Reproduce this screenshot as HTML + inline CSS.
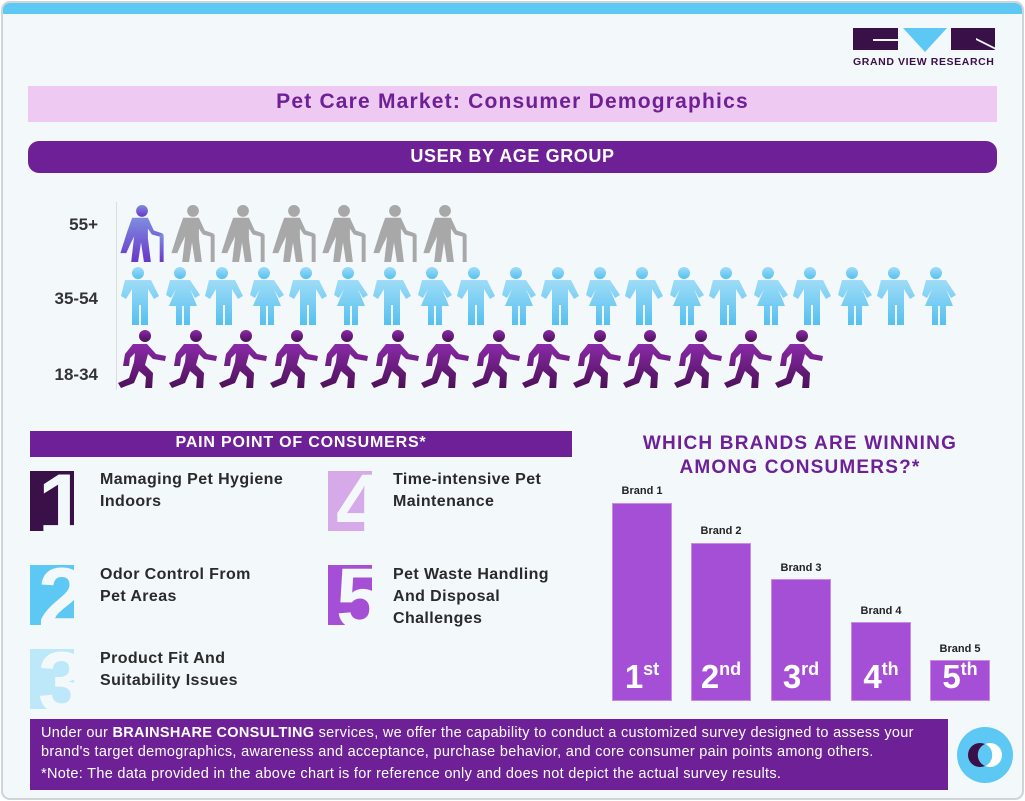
<!DOCTYPE html>
<html><head><meta charset="utf-8"><style>
*{margin:0;padding:0;box-sizing:border-box}
body{width:1025px;height:801px;background:#fff;font-family:"Liberation Sans",Arial,sans-serif;position:relative;overflow:hidden}
.abs{position:absolute}
.frame{left:1px;top:1px;width:1023px;height:799px;border:2px solid #cfd4d6;border-radius:9px;background:#f3f8fb;overflow:hidden}
.topstrip{left:0;top:0;width:100%;height:11px;background:#5ec8f5}
.b{font-weight:bold}
.lab{font-weight:bold;color:#333;font-size:17px;text-align:right;width:60px}
.ic{width:44px;height:60px;overflow:hidden}
.ic span{position:absolute;font-weight:bold;font-size:86px;line-height:60px;left:8px;top:4px;color:#f3f8fb}
.pt{font-size:16px;font-weight:bold;color:#2a2a2a;line-height:22px;letter-spacing:0.4px}
.bar{background:#a54fd6;border:1px solid #c98be8}
.bl{font-size:11px;font-weight:bold;color:#222;text-align:center;width:80px}
.rk{color:#fff;font-weight:bold;font-size:33px;text-align:center;width:60px}
.rk sup{font-size:18px;vertical-align:13px}
</style></head><body>
<div class="abs frame">
<div class="abs topstrip"></div>
</div>
<div class="abs" style="left:853px;top:28px;width:45px;height:22px;background:#3a1048"></div>
<div class="abs" style="left:873px;top:39px;width:25px;height:2px;background:#f3f8fb"></div>
<svg class="abs" style="left:903px;top:28px" width="44" height="24"><polygon points="0,0 44,0 22,24" fill="#5ec8f5"/></svg>
<div class="abs" style="left:951px;top:28px;width:44px;height:22px;background:#3a1048"></div>
<svg class="abs" style="left:976px;top:38px" width="20" height="12"><polygon points="0,0 20,10 20,12 0,2" fill="#f3f8fb"/></svg>
<div class="abs b" style="left:853px;top:56px;font-size:10.5px;color:#3a1048;letter-spacing:0.6px">GRAND VIEW RESEARCH</div>

<div class="abs" style="left:28px;top:86px;width:969px;height:36px;background:#eec9f1"></div>
<div class="abs b" style="left:28px;top:90px;width:969px;text-align:center;font-size:21px;letter-spacing:1.2px;color:#6e2196">Pet Care Market: Consumer Demographics</div>

<div class="abs" style="left:28px;top:141px;width:969px;height:32px;background:#6e2196;border-radius:11px"></div>
<div class="abs b" style="left:28px;top:146px;width:969px;text-align:center;font-size:18px;letter-spacing:0.6px;color:#fff">USER BY AGE GROUP</div>

<div class="abs lab" style="left:38px;top:215px">55+</div>
<div class="abs lab" style="left:38px;top:289px">35-54</div>
<div class="abs lab" style="left:38px;top:365px">18-34</div>
<div class="abs" style="left:116px;top:202px;width:1px;height:188px;background:#ddd"></div>

<svg class="abs" style="left:0;top:0" width="1025" height="801">
<defs>
<symbol id="old" viewBox="0 0 50 58"><circle cx="25" cy="6" r="6"/><path d="M15 13h16l6 13 9 3v4l-11-3-4-6v10l3 24h-7l-3-20-3 20h-7l3-26-4 8-4 9h-6l7-22z"/><rect x="43" y="30" width="4" height="28"/></symbol>
<symbol id="man" viewBox="0 0 42 58"><circle cx="21" cy="6" r="6"/><path d="M8 13h26l8 16-5 3-6-10v36h-7v-20h-2v20h-7v-36l-6 10-5-3z"/></symbol>
<symbol id="wom" viewBox="0 0 42 58"><circle cx="21" cy="6" r="6"/><path d="M11 13h20l10 15-5 3-5-9 7 17h-7v19h-6v-19h-2v19h-6v-19h-7l7-17-5 9-5-3z"/></symbol>
<symbol id="run" viewBox="0 0 50 58"><circle cx="28" cy="6" r="6"/><path d="M16 14h14l9 10 10 2-1 5-12-2-5-5-3 11 8 8-1 17h-7l1-13-7-6-5 12-13 5-3-5 11-5 5-16 1-9-5 5-1 8h-6l2-12z"/></symbol>
<linearGradient id="gp" x1="0" y1="0" x2="0" y2="1"><stop offset="0" stop-color="#8a2aa8"/><stop offset="1" stop-color="#4a1055"/></linearGradient>
<linearGradient id="gb" x1="0" y1="0" x2="0" y2="1"><stop offset="0" stop-color="#9fdcf7"/><stop offset="1" stop-color="#55c0f0"/></linearGradient>
<linearGradient id="gv" x1="0" y1="0" x2="0" y2="1"><stop offset="0" stop-color="#7d8de0"/><stop offset="1" stop-color="#6a36c8"/></linearGradient>
</defs>
<use href="#old" x="117" y="205" width="50" height="57" fill="url(#gv)"/>
<g fill="#a8a8a8">
<use href="#old" x="168" y="205" width="50" height="57"/><use href="#old" x="218" y="205" width="50" height="57"/><use href="#old" x="269" y="205" width="50" height="57"/><use href="#old" x="319" y="205" width="50" height="57"/><use href="#old" x="370" y="205" width="50" height="57"/><use href="#old" x="420" y="205" width="50" height="57"/>
</g>
<g fill="url(#gb)">
<use href="#man" x="117" y="267" width="42" height="58"/><use href="#wom" x="159" y="267" width="42" height="58"/><use href="#man" x="201" y="267" width="42" height="58"/><use href="#wom" x="243" y="267" width="42" height="58"/><use href="#man" x="285" y="267" width="42" height="58"/><use href="#wom" x="327" y="267" width="42" height="58"/><use href="#man" x="369" y="267" width="42" height="58"/><use href="#wom" x="411" y="267" width="42" height="58"/><use href="#man" x="453" y="267" width="42" height="58"/><use href="#wom" x="495" y="267" width="42" height="58"/><use href="#man" x="537" y="267" width="42" height="58"/><use href="#wom" x="579" y="267" width="42" height="58"/><use href="#man" x="621" y="267" width="42" height="58"/><use href="#wom" x="663" y="267" width="42" height="58"/><use href="#man" x="705" y="267" width="42" height="58"/><use href="#wom" x="747" y="267" width="42" height="58"/><use href="#man" x="789" y="267" width="42" height="58"/><use href="#wom" x="831" y="267" width="42" height="58"/><use href="#man" x="873" y="267" width="42" height="58"/><use href="#wom" x="915" y="267" width="42" height="58"/>
</g>
<g fill="url(#gp)">
<use href="#run" x="117" y="330" width="50" height="58"/><use href="#run" x="168" y="330" width="50" height="58"/><use href="#run" x="218" y="330" width="50" height="58"/><use href="#run" x="269" y="330" width="50" height="58"/><use href="#run" x="319" y="330" width="50" height="58"/><use href="#run" x="370" y="330" width="50" height="58"/><use href="#run" x="420" y="330" width="50" height="58"/><use href="#run" x="471" y="330" width="50" height="58"/><use href="#run" x="521" y="330" width="50" height="58"/><use href="#run" x="572" y="330" width="50" height="58"/><use href="#run" x="622" y="330" width="50" height="58"/><use href="#run" x="673" y="330" width="50" height="58"/><use href="#run" x="723" y="330" width="50" height="58"/><use href="#run" x="774" y="330" width="50" height="58"/>
</g>
</svg>

<div class="abs" style="left:30px;top:431px;width:542px;height:26px;background:#6e2196"></div>
<div class="abs b" style="left:30px;top:434px;width:542px;text-align:center;font-size:16px;letter-spacing:0.8px;color:#fff">PAIN POINT OF CONSUMERS*</div>

<div class="abs ic" style="left:30px;top:471px;background:#3a1048"><span>1</span></div>
<div class="abs ic" style="left:30px;top:565px;background:#5ec8f5"><span>2</span></div>
<div class="abs ic" style="left:30px;top:649px;background:#bde8f9"><span>3</span></div>
<div class="abs ic" style="left:328px;top:471px;background:#d6a9e8"><span>4</span></div>
<div class="abs ic" style="left:328px;top:565px;background:#a54fd6"><span>5</span></div>
<div class="abs pt" style="left:100px;top:469px">Mamaging Pet Hygiene<br>Indoors</div>
<div class="abs pt" style="left:100px;top:564px">Odor Control From<br>Pet Areas</div>
<div class="abs pt" style="left:100px;top:648px">Product Fit And<br>Suitability Issues</div>
<div class="abs pt" style="left:393px;top:469px">Time-intensive Pet<br>Maintenance</div>
<div class="abs pt" style="left:393px;top:564px">Pet Waste Handling<br>And Disposal<br>Challenges</div>

<div class="abs b" style="left:600px;top:432px;width:400px;text-align:center;font-size:19px;letter-spacing:1.2px;line-height:24px;color:#6e2196">WHICH BRANDS ARE WINNING<br>AMONG CONSUMERS?*</div>
<div class="abs bar" style="left:612px;top:503px;width:60px;height:198px"></div>
<div class="abs bar" style="left:691px;top:543px;width:60px;height:158px"></div>
<div class="abs bar" style="left:771px;top:579px;width:60px;height:122px"></div>
<div class="abs bar" style="left:851px;top:622px;width:60px;height:79px"></div>
<div class="abs bar" style="left:930px;top:660px;width:60px;height:41px"></div>
<div class="abs bl" style="left:602px;top:485px">Brand 1</div>
<div class="abs bl" style="left:681px;top:525px">Brand 2</div>
<div class="abs bl" style="left:761px;top:562px">Brand 3</div>
<div class="abs bl" style="left:841px;top:605px">Brand 4</div>
<div class="abs bl" style="left:920px;top:643px">Brand 5</div>
<div class="abs rk" style="left:612px;top:658px">1<sup>st</sup></div>
<div class="abs rk" style="left:691px;top:658px">2<sup>nd</sup></div>
<div class="abs rk" style="left:771px;top:658px">3<sup>rd</sup></div>
<div class="abs rk" style="left:851px;top:658px">4<sup>th</sup></div>
<div class="abs rk" style="left:930px;top:658px">5<sup>th</sup></div>

<div class="abs" style="left:30px;top:719px;width:918px;height:71px;background:#6e2196"></div>
<div class="abs" style="left:41px;top:724px;width:900px;font-size:14.5px;line-height:19px;letter-spacing:0.3px;color:#fff">Under our <b>BRAINSHARE CONSULTING</b> services, we offer the capability to conduct a customized survey designed to assess your<br>brand's target demographics, awareness and acceptance, purchase behavior, and core consumer pain points among others.</div>
<div class="abs" style="left:41px;top:766px;font-size:14.5px;letter-spacing:0.3px;color:#fff">*Note: The data provided in the above chart is for reference only and does not depict the actual survey results.</div>

<svg class="abs" style="left:956px;top:726px" width="58" height="58">
<circle cx="29" cy="29" r="28" fill="#5ec8f5"/>
<circle cx="34" cy="29" r="12" fill="#fff"/>
<circle cx="24" cy="29" r="12" fill="#3a1048"/>
<path d="M29 18a12 12 0 0 1 0 22a12 12 0 0 1 0-22z" fill="#5ec8f5"/>
</svg>
</body></html>
